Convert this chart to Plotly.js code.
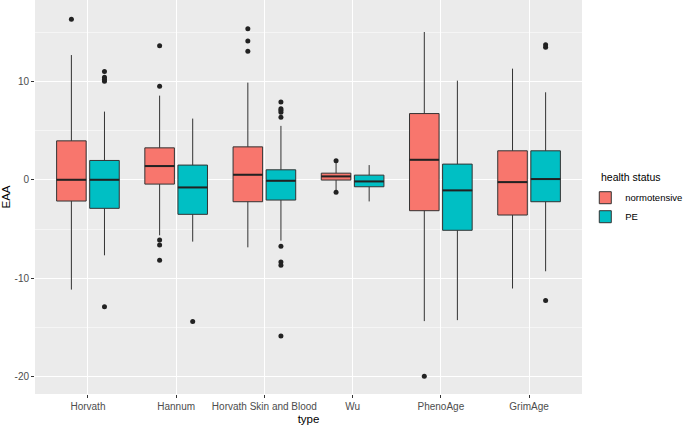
<!DOCTYPE html>
<html>
<head>
<meta charset="utf-8">
<script src="https://cdn.plot.ly/plotly-3.0.1.min.js"></script>
<style>html,body{margin:0;padding:0;background:#fff;}#chart{width:685px;height:427px;}</style>
</head>
<body>
<div id="chart"></div>
<script>
var categories = ["Horvath", "Hannum", "Horvath Skin and Blood", "Wu", "PhenoAge", "GrimAge"];
var groups = ["normotensive", "PE"];
var legendTitle = "health status";

var normQ1  = [-2.16, -0.44, -2.23, -0.03, -3.14, -3.58];
var normMed = [0.00, 1.39, 0.51, 0.34, 2.03, -0.24];
var normQ3  = [3.95, 3.24, 3.34, 0.67, 6.72, 2.94];
var normLo  = [-11.15, -5.64, -6.86, -1.10, -14.35, -11.04];
var normHi  = [12.66, 8.54, 9.86, 1.70, 15.00, 11.28];
var normOut = [[16.3], [13.6, 9.49, -6.11, -6.62, -8.17], [15.33, 14.1, 13.04], [1.92, -1.28], [-19.96], []];

var peQ1  = [-2.90, -3.51, -2.06, -0.71, -5.13, -2.23];
var peMed = [0.00, -0.78, -0.10, -0.17, -1.08, 0.07];
var peQ3  = [1.96, 1.49, 1.01, 0.47, 1.59, 2.94];
var peLo  = [-7.67, -6.28, -6.18, -2.20, -14.25, -9.29];
var peHi  = [6.92, 6.21, 5.47, 1.49, 10.06, 8.88];
var peOut = [[11.0, 10.4, 10.2, 10.0, -12.9], [-14.39], [7.9, 7.22, 7.06, 6.86, 6.35, -6.76, -8.34, -8.68, -15.87], [], [], [13.7, 13.45, -12.26]];

var yTicks = [-20, -10, 0, 10];
var yTickText = ["-20", "-10", "0", "10"];

var colors = ["#F8766D", "#00BFC4"];
var dodge = 0.1875;
var boxW = 0.335;

var sets = [
  {name: groups[0], q1: normQ1, med: normMed, q3: normQ3, lo: normLo, hi: normHi, out: normOut, off: -dodge, color: colors[0]},
  {name: groups[1], q1: peQ1, med: peMed, q3: peQ3, lo: peLo, hi: peHi, out: peOut, off: dodge, color: colors[1]}
];

var traces = [];
sets.forEach(function (s) {
  var xs = categories.map(function (c, i) { return i + 1 + s.off; });
  traces.push({
    type: "box",
    name: s.name,
    x: xs,
    q1: s.q1, median: s.med, q3: s.q3,
    lowerfence: s.lo, upperfence: s.hi,
    width: boxW,
    boxpoints: false,
    fillcolor: s.color,
    line: {color: "#333333", width: 1},
    whiskerwidth: 0,
    hoverinfo: "skip",
    showlegend: true
  });
});
sets.forEach(function (s) {
  var mx = [], my = [];
  var ox = [], oy = [];
  categories.forEach(function (c, i) {
    var cx = i + 1 + s.off;
    mx.push(cx - boxW / 2, cx + boxW / 2, null);
    my.push(s.med[i], s.med[i], null);
    s.out[i].forEach(function (v) { ox.push(cx); oy.push(v); });
  });
  traces.push({type: "scatter", mode: "lines", x: mx, y: my, line: {color: "#222222", width: 2}, showlegend: false, hoverinfo: "skip"});
  traces.push({type: "scatter", mode: "markers", x: ox, y: oy, marker: {color: "#222222", size: 5}, showlegend: false, hoverinfo: "skip"});
});

var layout = {
  width: 685, height: 427,
  margin: {l: 35, r: 103, t: 0, b: 33, autoexpand: false},
  paper_bgcolor: "#FFFFFF",
  plot_bgcolor: "#EBEBEB",
  font: {family: "Liberation Sans, Arial, sans-serif", size: 10, color: "#4D4D4D"},
  boxmode: "overlay",
  xaxis: {
    range: [0.4, 6.6],
    tickvals: categories.map(function (c, i) { return i + 1; }),
    ticktext: categories,
    showgrid: true, gridcolor: "#FFFFFF", gridwidth: 1.1,
    zeroline: false, showline: false,
    ticks: "outside", ticklen: 3, tickwidth: 1, tickcolor: "#333333",
    tickfont: {size: 10, color: "#4D4D4D"},
    automargin: false,
    title: {text: "type", font: {size: 11.5, color: "#000000"}, standoff: 3}
  },
  yaxis: {
    range: [-21.75, 18.25],
    tickvals: yTicks,
    ticktext: yTickText,
    showgrid: true, gridcolor: "#FFFFFF", gridwidth: 1.1,
    minor: {tickvals: [-15, -5, 5, 15], showgrid: true, gridcolor: "#FFFFFF", gridwidth: 0.5, ticks: ""},
    zeroline: false, showline: false,
    ticks: "outside", ticklen: 3, tickwidth: 1, tickcolor: "#333333",
    tickfont: {size: 10, color: "#4D4D4D"},
    automargin: false,
    title: {text: "EAA", font: {size: 11.5, color: "#000000"}, standoff: 6}
  },
  legend: {
    x: 1.006, xanchor: "left", y: 0.535, yanchor: "top",
    font: {size: 9.5, color: "#000000"},
    bgcolor: "rgba(0,0,0,0)",
    tracegroupgap: 0
  },
  annotations: [{
    xref: "paper", yref: "paper", x: 1.031, y: 0.551, xanchor: "left", yanchor: "middle",
    text: legendTitle, showarrow: false, font: {size: 10.5, color: "#000000"}
  }]
};

Plotly.newPlot("chart", traces, layout, {staticPlot: true, displayModeBar: false});
</script>
</body>
</html>
